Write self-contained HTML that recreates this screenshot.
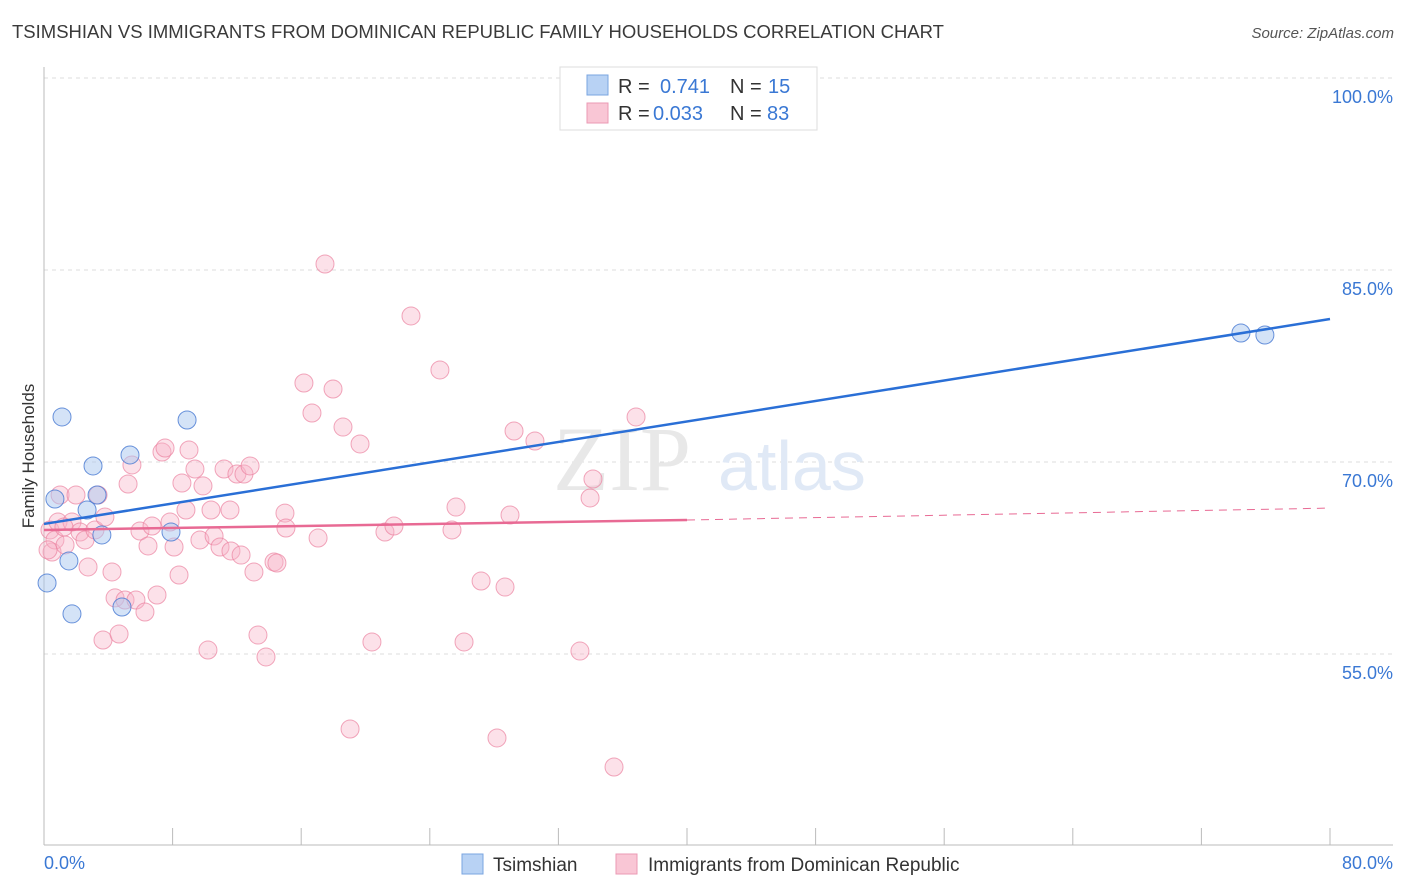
<!DOCTYPE html>
<html><head><meta charset="utf-8">
<style>
body{margin:0;background:#fff;font-family:"Liberation Sans",sans-serif;}
#wrap{position:relative;width:1406px;height:892px;overflow:hidden;}
.t{position:absolute;white-space:nowrap;}
</style></head>
<body>
<div id="wrap">
<div class="t" style="left:12px;top:21px;font-size:18.5px;color:#3a3a3a;">TSIMSHIAN VS IMMIGRANTS FROM DOMINICAN REPUBLIC FAMILY HOUSEHOLDS CORRELATION CHART</div>
<div class="t" style="right:12px;top:25px;font-size:15px;color:#555;font-style:italic">Source: ZipAtlas.com</div>
<svg id="svg" width="1406" height="892" style="position:absolute;left:0;top:0"></svg>
</div>
<script>
const yTicks=[55,70,85,100];
const xTickLabels=["0.0%","80.0%"];
const blueX=[0.19,0.68,1.12,1.55,1.74,2.68,3.05,3.3,3.6,4.85,5.35,7.9,8.9,74.46,75.95];
const blueY=[60.55,67.11,73.52,62.27,58.13,66.25,69.69,67.42,64.3,58.67,70.55,64.53,73.28,80.08,79.92];
const pinkX=[0.37,0.5,0.68,0.87,1.0,1.31,1.74,1.99,2.24,2.55,2.74,3.17,3.36,3.79,3.67,4.23,4.42,4.67,5.04,5.23,5.47,5.72,5.97,6.28,6.47,6.72,7.03,7.34,7.53,7.84,8.09,8.4,8.58,8.83,9.02,9.39,9.7,9.89,10.2,10.39,10.58,10.95,11.2,11.57,11.63,12.0,12.26,12.44,12.82,13.06,13.31,13.81,14.31,14.49,14.99,15.05,16.17,16.67,17.05,17.48,17.98,18.6,19.04,19.66,20.4,21.21,21.77,22.83,24.63,25.38,25.63,26.13,27.19,28.18,28.68,28.99,29.24,30.54,33.34,33.97,34.15,35.46,36.83,0.25,1.24];
const pinkY=[64.69,62.97,63.91,65.31,67.42,63.52,65.31,67.42,64.53,63.91,61.8,64.69,67.42,65.7,56.09,61.41,59.38,56.56,59.22,68.28,69.77,59.22,64.61,58.28,63.44,65.0,59.61,70.78,71.09,65.31,63.36,61.17,68.36,66.25,70.94,69.45,63.91,68.13,55.31,66.25,64.22,63.36,69.45,66.25,63.05,69.06,62.73,69.06,69.69,61.41,56.48,54.77,62.19,62.11,66.01,64.84,76.17,73.83,64.06,85.47,75.7,72.73,49.14,71.41,55.94,64.53,65.0,81.41,77.19,64.69,66.48,55.94,60.7,48.44,60.23,65.86,72.42,71.64,55.23,67.19,68.67,46.17,73.52,63.13,64.92];
const blueTrend=[65.16,81.17];
const pinkTrend=[64.69,65.47,66.4];
const X0=44,X1=1330,YB=845;
const xs=v=>X0+v/80*(X1-X0);
const ys=v=>462-(v-70)*12.8;
const svg=document.getElementById('svg');
const NS='http://www.w3.org/2000/svg';
function mk(tag,attrs,name,parent){const e=document.createElementNS(NS,tag);for(const k in attrs)e.setAttribute(k,attrs[k]);


(parent||svg).appendChild(e);return e;}
yTicks.forEach(v=>{
 mk('line',{x1:X0,x2:1393,y1:ys(v),y2:ys(v),stroke:'#ddd','stroke-dasharray':'4,4'},'gridline');
 const t=mk('text',{x:1393,y:ys(v)+25,'text-anchor':'end','font-size':18,fill:'#3a78d4','font-family':'Liberation Sans'},'y-tick-label');
 t.textContent=v.toFixed(1)+'%';
});
mk('line',{x1:X0,x2:X0,y1:67,y2:YB,stroke:'#bbb'},'y-axis');
mk('line',{x1:X0,x2:1393,y1:YB,y2:YB,stroke:'#bbb'},'x-axis');
for(let i=0;i<=10;i++){mk('line',{x1:xs(i*8),x2:xs(i*8),y1:828,y2:YB,stroke:'#bbb'},'x-tick');}
let t=mk('text',{x:44,y:869,'font-size':18,fill:'#3a78d4','font-family':'Liberation Sans'},'x-tick-label');t.textContent=xTickLabels[0];
t=mk('text',{x:1393,y:869,'text-anchor':'end','font-size':18,fill:'#3a78d4','font-family':'Liberation Sans'},'x-tick-label');t.textContent=xTickLabels[1];
t=mk('text',{x:34,y:456,transform:'rotate(-90 34 456)','text-anchor':'middle','font-size':17,fill:'#333','font-family':'Liberation Sans'},'y-axis-title');t.textContent='Family Households';
t=mk('text',{x:553,y:490,'font-size':92,fill:'#e8e8e8','font-family':'Liberation Serif'},'watermark');t.textContent='ZIP';
t=mk('text',{x:718,y:490,'font-size':70,fill:'#e0e9f6','font-family':'Liberation Sans'},'watermark');t.textContent='atlas';
pinkX.forEach((v,i)=>mk('circle',{cx:xs(v),cy:ys(pinkY[i]),r:9,fill:'rgba(248,180,200,0.4)',stroke:'rgba(235,130,160,0.7)','stroke-width':1},'pink-point'));
blueX.forEach((v,i)=>mk('circle',{cx:xs(v),cy:ys(blueY[i]),r:9,fill:'rgba(170,200,240,0.5)',stroke:'rgba(70,120,210,0.8)','stroke-width':1},'blue-point'));
mk('line',{x1:xs(0),y1:ys(blueTrend[0]),x2:xs(80),y2:ys(blueTrend[1]),stroke:'#2a6fd6','stroke-width':2.5},'tsimshian-trend-line');
mk('line',{x1:xs(0),y1:ys(pinkTrend[0]),x2:xs(40),y2:ys(pinkTrend[1]),stroke:'#e86a94','stroke-width':2.5},'dominican-trend-line');
mk('line',{x1:xs(40),y1:ys(pinkTrend[1]),x2:xs(80),y2:ys(pinkTrend[2]),stroke:'#e86a94','stroke-width':1,'stroke-dasharray':'8,6'},'dominican-trend-extension');
const lg=mk('g',{},'legend');
mk('rect',{x:560,y:67,width:257,height:63,fill:'#fff',stroke:'#ddd'},'legend-box',lg);
mk('rect',{x:587,y:75,width:21,height:20,fill:'#b8d2f4',stroke:'#7aa5e0'},'legend-swatch-blue',lg);
mk('rect',{x:587,y:103,width:21,height:20,fill:'#f9c6d5',stroke:'#eb9ab4'},'legend-swatch-pink',lg);
function lt(x,y,s,c,n){const e=mk('text',{x:x,y:y,'font-size':20,fill:c,'font-family':'Liberation Sans'},n,lg);e.textContent=s;}
lt(618,93,'R =','#333','legend-r-label');lt(660,93,'0.741','#3a78d4','legend-r-value');
lt(730,93,'N =','#333','legend-n-label');lt(768,93,'15','#3a78d4','legend-n-value');
lt(618,120,'R =','#333','legend-r-label');lt(653,120,'0.033','#3a78d4','legend-r-value');
lt(730,120,'N =','#333','legend-n-label');lt(767,120,'83','#3a78d4','legend-n-value');
mk('rect',{x:462,y:854,width:21,height:20,fill:'#b8d2f4',stroke:'#7aa5e0'},'legend-entry-tsimshian-swatch');
t=mk('text',{x:493,y:871,'font-size':19,fill:'#333','font-family':'Liberation Sans'},'legend-entry-tsimshian');t.textContent='Tsimshian';
mk('rect',{x:616,y:854,width:21,height:20,fill:'#f9c6d5',stroke:'#eb9ab4'},'legend-entry-dominican-swatch');
t=mk('text',{x:648,y:871,'font-size':19,fill:'#333','font-family':'Liberation Sans'},'legend-entry-dominican');t.textContent='Immigrants from Dominican Republic';
</script>
</body></html>
